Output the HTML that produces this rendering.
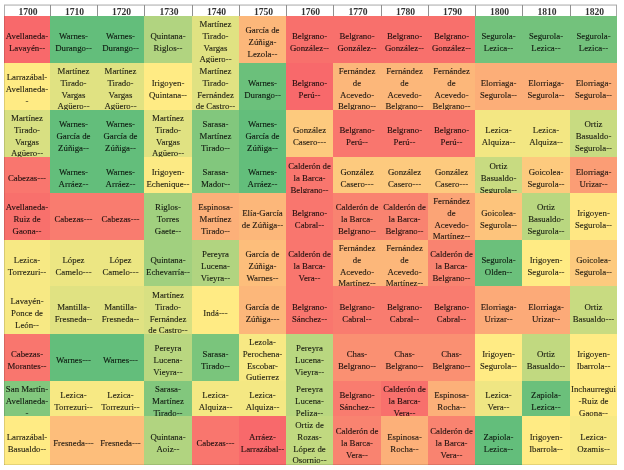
<!DOCTYPE html>
<html><head><meta charset="utf-8"><style>
html,body{margin:0;padding:0;background:#fff;width:624px;height:470px;overflow:hidden}
body{position:relative;font-family:"Liberation Serif",serif;}
.c{position:absolute;overflow:hidden;}
.t{position:absolute;left:0;right:0;text-align:center;font-size:8.8px;line-height:11.8px;white-space:nowrap;-webkit-text-stroke:0.1px currentColor;will-change:transform}
.t span{display:inline-block;transform:scaleX(1.0);transform-origin:50% 50%}
.h{position:absolute;background:#fff;text-align:center;font-weight:bold;font-size:9.6px;line-height:11px;color:#333;padding-left:2px;will-change:transform;box-sizing:border-box}
</style></head><body>

<div style="position:absolute;left:4px;top:4px;width:613px;height:1px;background:#d8d8d8"></div>
<div style="position:absolute;left:4px;top:5px;width:613px;height:1px;background:#cfcfcf"></div>
<div class="h" style="left:4.0px;top:6.0px;width:46.0px;height:10.0px;line-height:12.8px">1700</div>
<div class="h" style="left:50.0px;top:6.0px;width:47.0px;height:10.0px;line-height:12.8px">1710</div>
<div class="h" style="left:97.0px;top:6.0px;width:47.0px;height:10.0px;line-height:12.8px">1720</div>
<div class="h" style="left:144.0px;top:6.0px;width:48.0px;height:10.0px;line-height:12.8px">1730</div>
<div class="h" style="left:192.0px;top:6.0px;width:47.0px;height:10.0px;line-height:12.8px">1740</div>
<div class="h" style="left:239.0px;top:6.0px;width:47.0px;height:10.0px;line-height:12.8px">1750</div>
<div class="h" style="left:286.0px;top:6.0px;width:47.0px;height:10.0px;line-height:12.8px">1760</div>
<div class="h" style="left:333.0px;top:6.0px;width:48.0px;height:10.0px;line-height:12.8px">1770</div>
<div class="h" style="left:381.0px;top:6.0px;width:47.0px;height:10.0px;line-height:12.8px">1780</div>
<div class="h" style="left:428.0px;top:6.0px;width:47.0px;height:10.0px;line-height:12.8px">1790</div>
<div class="h" style="left:475.0px;top:6.0px;width:47.0px;height:10.0px;line-height:12.8px">1800</div>
<div class="h" style="left:522.0px;top:6.0px;width:48.0px;height:10.0px;line-height:12.8px">1810</div>
<div class="h" style="left:570.0px;top:6.0px;width:47.0px;height:10.0px;line-height:12.8px">1820</div>
<div style="position:absolute;left:49.5px;top:4.7px;width:1px;height:11.3px;background:#909090"></div>
<div style="position:absolute;left:96.5px;top:4.7px;width:1px;height:11.3px;background:#909090"></div>
<div style="position:absolute;left:143.5px;top:4.7px;width:1px;height:11.3px;background:#909090"></div>
<div style="position:absolute;left:191.5px;top:4.7px;width:1px;height:11.3px;background:#909090"></div>
<div style="position:absolute;left:238.5px;top:4.7px;width:1px;height:11.3px;background:#909090"></div>
<div style="position:absolute;left:285.5px;top:4.7px;width:1px;height:11.3px;background:#909090"></div>
<div style="position:absolute;left:332.5px;top:4.7px;width:1px;height:11.3px;background:#909090"></div>
<div style="position:absolute;left:380.5px;top:4.7px;width:1px;height:11.3px;background:#909090"></div>
<div style="position:absolute;left:427.5px;top:4.7px;width:1px;height:11.3px;background:#909090"></div>
<div style="position:absolute;left:474.5px;top:4.7px;width:1px;height:11.3px;background:#909090"></div>
<div style="position:absolute;left:521.5px;top:4.7px;width:1px;height:11.3px;background:#909090"></div>
<div style="position:absolute;left:569.5px;top:4.7px;width:1px;height:11.3px;background:#909090"></div>
<div style="position:absolute;left:3.5px;top:4.7px;width:1px;height:460.3px;background:#b0b0b0"></div>
<div style="position:absolute;left:616.0px;top:4.7px;width:1px;height:11.3px;background:#a8a8a8"></div>
<div class="c" style="left:4.0px;top:16.0px;width:46.0px;height:47.0px;background:#f8696b"><div class="t" style="top:15.2px;color:#1e0d0d"><span>Avellaneda-</span><br><span>Lavayén--</span></div></div>
<div class="c" style="left:50.0px;top:16.0px;width:47.0px;height:47.0px;background:#63be7b"><div class="t" style="top:15.2px;color:#0c170f"><span>Warnes-</span><br><span>Durango--</span></div></div>
<div class="c" style="left:97.0px;top:16.0px;width:47.0px;height:47.0px;background:#63be7b"><div class="t" style="top:15.2px;color:#0c170f"><span>Warnes-</span><br><span>Durango--</span></div></div>
<div class="c" style="left:144.0px;top:16.0px;width:48.0px;height:47.0px;background:#b1d480"><div class="t" style="top:15.2px;color:#15190f"><span>Quintana-</span><br><span>Riglos--</span></div></div>
<div class="c" style="left:192.0px;top:16.0px;width:47.0px;height:47.0px;background:#e0e282"><div class="t" style="top:3.4px;color:#1b1b10"><span>Martínez</span><br><span>Tirado-</span><br><span>Vargas</span><br><span>Agüero--</span></div></div>
<div class="c" style="left:239.0px;top:16.0px;width:47.0px;height:47.0px;background:#fcb77a"><div class="t" style="top:9.3px;color:#1e160f"><span>García de</span><br><span>Zúñiga-</span><br><span>Lezola--</span></div></div>
<div class="c" style="left:286.0px;top:16.0px;width:47.0px;height:47.0px;background:#f8706c"><div class="t" style="top:15.2px;color:#1e0d0d"><span>Belgrano-</span><br><span>González--</span></div></div>
<div class="c" style="left:333.0px;top:16.0px;width:48.0px;height:47.0px;background:#f8706c"><div class="t" style="top:15.2px;color:#1e0d0d"><span>Belgrano-</span><br><span>González--</span></div></div>
<div class="c" style="left:381.0px;top:16.0px;width:47.0px;height:47.0px;background:#f8706c"><div class="t" style="top:15.2px;color:#1e0d0d"><span>Belgrano-</span><br><span>González--</span></div></div>
<div class="c" style="left:428.0px;top:16.0px;width:47.0px;height:47.0px;background:#f8706c"><div class="t" style="top:15.2px;color:#1e0d0d"><span>Belgrano-</span><br><span>González--</span></div></div>
<div class="c" style="left:475.0px;top:16.0px;width:47.0px;height:47.0px;background:#73c27c"><div class="t" style="top:15.2px;color:#0e170f"><span>Segurola-</span><br><span>Lezica--</span></div></div>
<div class="c" style="left:522.0px;top:16.0px;width:48.0px;height:47.0px;background:#73c27c"><div class="t" style="top:15.2px;color:#0e170f"><span>Segurola-</span><br><span>Lezica--</span></div></div>
<div class="c" style="left:570.0px;top:16.0px;width:47.0px;height:47.0px;background:#73c27c"><div class="t" style="top:15.2px;color:#0e170f"><span>Segurola-</span><br><span>Lezica--</span></div></div>
<div class="c" style="left:4.0px;top:63.0px;width:46.0px;height:47.0px;background:#ffeb84"><div class="t" style="top:9.3px;color:#1f1c10"><span>Larrazábal-</span><br><span>Avellaneda-</span><br><span>-</span></div></div>
<div class="c" style="left:50.0px;top:63.0px;width:47.0px;height:47.0px;background:#e0e282"><div class="t" style="top:3.4px;color:#1b1b10"><span>Martínez</span><br><span>Tirado-</span><br><span>Vargas</span><br><span>Agüero--</span></div></div>
<div class="c" style="left:97.0px;top:63.0px;width:47.0px;height:47.0px;background:#e0e282"><div class="t" style="top:3.4px;color:#1b1b10"><span>Martínez</span><br><span>Tirado-</span><br><span>Vargas</span><br><span>Agüero--</span></div></div>
<div class="c" style="left:144.0px;top:63.0px;width:48.0px;height:47.0px;background:#ffeb84"><div class="t" style="top:15.2px;color:#1f1c10"><span>Irigoyen-</span><br><span>Quintana--</span></div></div>
<div class="c" style="left:192.0px;top:63.0px;width:47.0px;height:47.0px;background:#e0e282"><div class="t" style="top:3.4px;color:#1b1b10"><span>Martínez</span><br><span>Tirado-</span><br><span>Fernández</span><br><span>de Castro--</span></div></div>
<div class="c" style="left:239.0px;top:63.0px;width:47.0px;height:47.0px;background:#6bc07b"><div class="t" style="top:15.2px;color:#0d170f"><span>Warnes-</span><br><span>Durango--</span></div></div>
<div class="c" style="left:286.0px;top:63.0px;width:47.0px;height:47.0px;background:#f8696b"><div class="t" style="top:15.2px;color:#1e0d0d"><span>Belgrano-</span><br><span>Perú--</span></div></div>
<div class="c" style="left:333.0px;top:63.0px;width:48.0px;height:47.0px;background:#fcb77a"><div class="t" style="top:3.4px;color:#1e160f"><span>Fernández</span><br><span>de</span><br><span>Acevedo-</span><br><span>Belgrano--</span></div></div>
<div class="c" style="left:381.0px;top:63.0px;width:47.0px;height:47.0px;background:#fcb77a"><div class="t" style="top:3.4px;color:#1e160f"><span>Fernández</span><br><span>de</span><br><span>Acevedo-</span><br><span>Belgrano--</span></div></div>
<div class="c" style="left:428.0px;top:63.0px;width:47.0px;height:47.0px;background:#fcb77a"><div class="t" style="top:3.4px;color:#1e160f"><span>Fernández</span><br><span>de</span><br><span>Acevedo-</span><br><span>Belgrano--</span></div></div>
<div class="c" style="left:475.0px;top:63.0px;width:47.0px;height:47.0px;background:#fcae78"><div class="t" style="top:15.2px;color:#1e150e"><span>Elorriaga-</span><br><span>Segurola--</span></div></div>
<div class="c" style="left:522.0px;top:63.0px;width:48.0px;height:47.0px;background:#fcae78"><div class="t" style="top:15.2px;color:#1e150e"><span>Elorriaga-</span><br><span>Segurola--</span></div></div>
<div class="c" style="left:570.0px;top:63.0px;width:47.0px;height:47.0px;background:#fcae78"><div class="t" style="top:15.2px;color:#1e150e"><span>Elorriaga-</span><br><span>Segurola--</span></div></div>
<div class="c" style="left:4.0px;top:110.0px;width:46.0px;height:47.0px;background:#d8e082"><div class="t" style="top:3.4px;color:#1a1b10"><span>Martínez</span><br><span>Tirado-</span><br><span>Vargas</span><br><span>Agüero--</span></div></div>
<div class="c" style="left:50.0px;top:110.0px;width:47.0px;height:47.0px;background:#63be7b"><div class="t" style="top:9.3px;color:#0c170f"><span>Warnes-</span><br><span>García de</span><br><span>Zúñiga--</span></div></div>
<div class="c" style="left:97.0px;top:110.0px;width:47.0px;height:47.0px;background:#63be7b"><div class="t" style="top:9.3px;color:#0c170f"><span>Warnes-</span><br><span>García de</span><br><span>Zúñiga--</span></div></div>
<div class="c" style="left:144.0px;top:110.0px;width:48.0px;height:47.0px;background:#e0e282"><div class="t" style="top:3.4px;color:#1b1b10"><span>Martínez</span><br><span>Tirado-</span><br><span>Vargas</span><br><span>Agüero--</span></div></div>
<div class="c" style="left:192.0px;top:110.0px;width:47.0px;height:47.0px;background:#82c77d"><div class="t" style="top:9.3px;color:#10180f"><span>Sarasa-</span><br><span>Martínez</span><br><span>Tirado--</span></div></div>
<div class="c" style="left:239.0px;top:110.0px;width:47.0px;height:47.0px;background:#63be7b"><div class="t" style="top:9.3px;color:#0c170f"><span>Warnes-</span><br><span>García de</span><br><span>Zúñiga--</span></div></div>
<div class="c" style="left:286.0px;top:110.0px;width:47.0px;height:47.0px;background:#fdca7e"><div class="t" style="top:15.2px;color:#1e180f"><span>González</span><br><span>Casero---</span></div></div>
<div class="c" style="left:333.0px;top:110.0px;width:48.0px;height:47.0px;background:#f9766e"><div class="t" style="top:15.2px;color:#1e0e0d"><span>Belgrano-</span><br><span>Perú--</span></div></div>
<div class="c" style="left:381.0px;top:110.0px;width:47.0px;height:47.0px;background:#f9766e"><div class="t" style="top:15.2px;color:#1e0e0d"><span>Belgrano-</span><br><span>Perú--</span></div></div>
<div class="c" style="left:428.0px;top:110.0px;width:47.0px;height:47.0px;background:#f9766e"><div class="t" style="top:15.2px;color:#1e0e0d"><span>Belgrano-</span><br><span>Perú--</span></div></div>
<div class="c" style="left:475.0px;top:110.0px;width:47.0px;height:47.0px;background:#f3e783"><div class="t" style="top:15.2px;color:#1d1c10"><span>Lezica-</span><br><span>Alquiza--</span></div></div>
<div class="c" style="left:522.0px;top:110.0px;width:48.0px;height:47.0px;background:#f3e783"><div class="t" style="top:15.2px;color:#1d1c10"><span>Lezica-</span><br><span>Alquiza--</span></div></div>
<div class="c" style="left:570.0px;top:110.0px;width:47.0px;height:47.0px;background:#c8db81"><div class="t" style="top:9.3px;color:#181a0f"><span>Ortiz</span><br><span>Basualdo-</span><br><span>Segurola--</span></div></div>
<div class="c" style="left:4.0px;top:157.0px;width:46.0px;height:36.0px;background:#f9766e"><div class="t" style="top:15.6px;color:#1e0e0d"><span>Cabezas---</span></div></div>
<div class="c" style="left:50.0px;top:157.0px;width:47.0px;height:36.0px;background:#63be7b"><div class="t" style="top:9.7px;color:#0c170f"><span>Warnes-</span><br><span>Arráez--</span></div></div>
<div class="c" style="left:97.0px;top:157.0px;width:47.0px;height:36.0px;background:#63be7b"><div class="t" style="top:9.7px;color:#0c170f"><span>Warnes-</span><br><span>Arráez--</span></div></div>
<div class="c" style="left:144.0px;top:157.0px;width:48.0px;height:36.0px;background:#fcea84"><div class="t" style="top:9.7px;color:#1e1c10"><span>Irigoyen-</span><br><span>Echenique--</span></div></div>
<div class="c" style="left:192.0px;top:157.0px;width:47.0px;height:36.0px;background:#82c77d"><div class="t" style="top:9.7px;color:#10180f"><span>Sarasa-</span><br><span>Mador--</span></div></div>
<div class="c" style="left:239.0px;top:157.0px;width:47.0px;height:36.0px;background:#63be7b"><div class="t" style="top:9.7px;color:#0c170f"><span>Warnes-</span><br><span>Arráez--</span></div></div>
<div class="c" style="left:286.0px;top:157.0px;width:47.0px;height:36.0px;background:#f9766e"><div class="t" style="top:3.8px;color:#1e0e0d"><span>Calderón de</span><br><span>la Barca-</span><br><span>Belgrano--</span></div></div>
<div class="c" style="left:333.0px;top:157.0px;width:48.0px;height:36.0px;background:#fdca7e"><div class="t" style="top:9.7px;color:#1e180f"><span>González</span><br><span>Casero---</span></div></div>
<div class="c" style="left:381.0px;top:157.0px;width:47.0px;height:36.0px;background:#fdca7e"><div class="t" style="top:9.7px;color:#1e180f"><span>González</span><br><span>Casero---</span></div></div>
<div class="c" style="left:428.0px;top:157.0px;width:47.0px;height:36.0px;background:#fdca7e"><div class="t" style="top:9.7px;color:#1e180f"><span>González</span><br><span>Casero---</span></div></div>
<div class="c" style="left:475.0px;top:157.0px;width:47.0px;height:36.0px;background:#c8db81"><div class="t" style="top:3.8px;color:#181a0f"><span>Ortiz</span><br><span>Basualdo-</span><br><span>Segurola--</span></div></div>
<div class="c" style="left:522.0px;top:157.0px;width:48.0px;height:36.0px;background:#fdca7e"><div class="t" style="top:9.7px;color:#1e180f"><span>Goicolea-</span><br><span>Segurola--</span></div></div>
<div class="c" style="left:570.0px;top:157.0px;width:47.0px;height:36.0px;background:#fb9d75"><div class="t" style="top:9.7px;color:#1e130e"><span>Elorriaga-</span><br><span>Urizar--</span></div></div>
<div class="c" style="left:4.0px;top:193.0px;width:46.0px;height:47.0px;background:#f8706c"><div class="t" style="top:9.3px;color:#1e0d0d"><span>Avellaneda-</span><br><span>Ruiz de</span><br><span>Gaona--</span></div></div>
<div class="c" style="left:50.0px;top:193.0px;width:47.0px;height:47.0px;background:#f97c6f"><div class="t" style="top:21.1px;color:#1e0f0d"><span>Cabezas---</span></div></div>
<div class="c" style="left:97.0px;top:193.0px;width:47.0px;height:47.0px;background:#f97c6f"><div class="t" style="top:21.1px;color:#1e0f0d"><span>Cabezas---</span></div></div>
<div class="c" style="left:144.0px;top:193.0px;width:48.0px;height:47.0px;background:#a1d07f"><div class="t" style="top:9.3px;color:#13190f"><span>Riglos-</span><br><span>Torres</span><br><span>Gaete--</span></div></div>
<div class="c" style="left:192.0px;top:193.0px;width:47.0px;height:47.0px;background:#fcb079"><div class="t" style="top:9.3px;color:#1e150f"><span>Espinosa-</span><br><span>Martínez</span><br><span>Tirado--</span></div></div>
<div class="c" style="left:239.0px;top:193.0px;width:47.0px;height:47.0px;background:#fcb77a"><div class="t" style="top:15.2px;color:#1e160f"><span>Elía-García</span><br><span>de Zúñiga--</span></div></div>
<div class="c" style="left:286.0px;top:193.0px;width:47.0px;height:47.0px;background:#f9766e"><div class="t" style="top:15.2px;color:#1e0e0d"><span>Belgrano-</span><br><span>Cabral--</span></div></div>
<div class="c" style="left:333.0px;top:193.0px;width:48.0px;height:47.0px;background:#f98370"><div class="t" style="top:9.3px;color:#1e100d"><span>Calderón de</span><br><span>la Barca-</span><br><span>Belgrano--</span></div></div>
<div class="c" style="left:381.0px;top:193.0px;width:47.0px;height:47.0px;background:#f98370"><div class="t" style="top:9.3px;color:#1e100d"><span>Calderón de</span><br><span>la Barca-</span><br><span>Belgrano--</span></div></div>
<div class="c" style="left:428.0px;top:193.0px;width:47.0px;height:47.0px;background:#fba476"><div class="t" style="top:3.4px;color:#1e140e"><span>Fernández</span><br><span>de</span><br><span>Acevedo-</span><br><span>Martínez--</span></div></div>
<div class="c" style="left:475.0px;top:193.0px;width:47.0px;height:47.0px;background:#fdc47c"><div class="t" style="top:15.2px;color:#1e180f"><span>Goicolea-</span><br><span>Segurola--</span></div></div>
<div class="c" style="left:522.0px;top:193.0px;width:48.0px;height:47.0px;background:#b9d780"><div class="t" style="top:9.3px;color:#161a0f"><span>Ortiz</span><br><span>Basualdo-</span><br><span>Segurola--</span></div></div>
<div class="c" style="left:570.0px;top:193.0px;width:47.0px;height:47.0px;background:#ffe783"><div class="t" style="top:15.2px;color:#1f1c10"><span>Irigoyen-</span><br><span>Segurola--</span></div></div>
<div class="c" style="left:4.0px;top:240.0px;width:46.0px;height:46.0px;background:#f7e984"><div class="t" style="top:14.7px;color:#1e1c10"><span>Lezica-</span><br><span>Torrezuri--</span></div></div>
<div class="c" style="left:50.0px;top:240.0px;width:47.0px;height:46.0px;background:#ece683"><div class="t" style="top:14.7px;color:#1c1c10"><span>López</span><br><span>Camelo---</span></div></div>
<div class="c" style="left:97.0px;top:240.0px;width:47.0px;height:46.0px;background:#ece683"><div class="t" style="top:14.7px;color:#1c1c10"><span>López</span><br><span>Camelo---</span></div></div>
<div class="c" style="left:144.0px;top:240.0px;width:48.0px;height:46.0px;background:#a1d07f"><div class="t" style="top:14.7px;color:#13190f"><span>Quintana-</span><br><span>Echevarría--</span></div></div>
<div class="c" style="left:192.0px;top:240.0px;width:47.0px;height:46.0px;background:#b1d480"><div class="t" style="top:8.8px;color:#15190f"><span>Pereyra</span><br><span>Lucena-</span><br><span>Vieyra--</span></div></div>
<div class="c" style="left:239.0px;top:240.0px;width:47.0px;height:46.0px;background:#fdbe7b"><div class="t" style="top:8.8px;color:#1e170f"><span>García de</span><br><span>Zúñiga-</span><br><span>Warnes--</span></div></div>
<div class="c" style="left:286.0px;top:240.0px;width:47.0px;height:46.0px;background:#f9766e"><div class="t" style="top:8.8px;color:#1e0e0d"><span>Calderón de</span><br><span>la Barca-</span><br><span>Vera--</span></div></div>
<div class="c" style="left:333.0px;top:240.0px;width:48.0px;height:46.0px;background:#fcb77a"><div class="t" style="top:2.9px;color:#1e160f"><span>Fernández</span><br><span>de</span><br><span>Acevedo-</span><br><span>Martínez--</span></div></div>
<div class="c" style="left:381.0px;top:240.0px;width:47.0px;height:46.0px;background:#fcb77a"><div class="t" style="top:2.9px;color:#1e160f"><span>Fernández</span><br><span>de</span><br><span>Acevedo-</span><br><span>Martínez--</span></div></div>
<div class="c" style="left:428.0px;top:240.0px;width:47.0px;height:46.0px;background:#f98370"><div class="t" style="top:8.8px;color:#1e100d"><span>Calderón de</span><br><span>la Barca-</span><br><span>Belgrano--</span></div></div>
<div class="c" style="left:475.0px;top:240.0px;width:47.0px;height:46.0px;background:#6bc07b"><div class="t" style="top:14.7px;color:#0d170f"><span>Segurola-</span><br><span>Olden--</span></div></div>
<div class="c" style="left:522.0px;top:240.0px;width:48.0px;height:46.0px;background:#ffeb84"><div class="t" style="top:14.7px;color:#1f1c10"><span>Irigoyen-</span><br><span>Segurola--</span></div></div>
<div class="c" style="left:570.0px;top:240.0px;width:47.0px;height:46.0px;background:#fdca7e"><div class="t" style="top:14.7px;color:#1e180f"><span>Goicolea-</span><br><span>Segurola--</span></div></div>
<div class="c" style="left:4.0px;top:286.0px;width:46.0px;height:48.0px;background:#f7e984"><div class="t" style="top:9.8px;color:#1e1c10"><span>Lavayén-</span><br><span>Ponce de</span><br><span>León--</span></div></div>
<div class="c" style="left:50.0px;top:286.0px;width:47.0px;height:48.0px;background:#e0e282"><div class="t" style="top:15.7px;color:#1b1b10"><span>Mantilla-</span><br><span>Fresneda--</span></div></div>
<div class="c" style="left:97.0px;top:286.0px;width:47.0px;height:48.0px;background:#e0e282"><div class="t" style="top:15.7px;color:#1b1b10"><span>Mantilla-</span><br><span>Fresneda--</span></div></div>
<div class="c" style="left:144.0px;top:286.0px;width:48.0px;height:48.0px;background:#d8e082"><div class="t" style="top:3.9px;color:#1a1b10"><span>Martínez</span><br><span>Tirado-</span><br><span>Fernández</span><br><span>de Castro--</span></div></div>
<div class="c" style="left:192.0px;top:286.0px;width:47.0px;height:48.0px;background:#ffeb84"><div class="t" style="top:21.6px;color:#1f1c10"><span>Indá---</span></div></div>
<div class="c" style="left:239.0px;top:286.0px;width:47.0px;height:48.0px;background:#fcb77a"><div class="t" style="top:15.7px;color:#1e160f"><span>García de</span><br><span>Zúñiga---</span></div></div>
<div class="c" style="left:286.0px;top:286.0px;width:47.0px;height:48.0px;background:#f9766e"><div class="t" style="top:15.7px;color:#1e0e0d"><span>Belgrano-</span><br><span>Sánchez--</span></div></div>
<div class="c" style="left:333.0px;top:286.0px;width:48.0px;height:48.0px;background:#f97c6f"><div class="t" style="top:15.7px;color:#1e0f0d"><span>Belgrano-</span><br><span>Cabral--</span></div></div>
<div class="c" style="left:381.0px;top:286.0px;width:47.0px;height:48.0px;background:#f97c6f"><div class="t" style="top:15.7px;color:#1e0f0d"><span>Belgrano-</span><br><span>Cabral--</span></div></div>
<div class="c" style="left:428.0px;top:286.0px;width:47.0px;height:48.0px;background:#f97c6f"><div class="t" style="top:15.7px;color:#1e0f0d"><span>Belgrano-</span><br><span>Cabral--</span></div></div>
<div class="c" style="left:475.0px;top:286.0px;width:47.0px;height:48.0px;background:#fcaa78"><div class="t" style="top:15.7px;color:#1e140e"><span>Elorriaga-</span><br><span>Urizar--</span></div></div>
<div class="c" style="left:522.0px;top:286.0px;width:48.0px;height:48.0px;background:#fcaa78"><div class="t" style="top:15.7px;color:#1e140e"><span>Elorriaga-</span><br><span>Urizar--</span></div></div>
<div class="c" style="left:570.0px;top:286.0px;width:47.0px;height:48.0px;background:#c8db81"><div class="t" style="top:15.7px;color:#181a0f"><span>Ortiz</span><br><span>Basualdo---</span></div></div>
<div class="c" style="left:4.0px;top:334.0px;width:46.0px;height:47.0px;background:#f9766e"><div class="t" style="top:15.2px;color:#1e0e0d"><span>Cabezas-</span><br><span>Morantes--</span></div></div>
<div class="c" style="left:50.0px;top:334.0px;width:47.0px;height:47.0px;background:#63be7b"><div class="t" style="top:21.1px;color:#0c170f"><span>Warnes---</span></div></div>
<div class="c" style="left:97.0px;top:334.0px;width:47.0px;height:47.0px;background:#63be7b"><div class="t" style="top:21.1px;color:#0c170f"><span>Warnes---</span></div></div>
<div class="c" style="left:144.0px;top:334.0px;width:48.0px;height:47.0px;background:#b9d780"><div class="t" style="top:9.3px;color:#161a0f"><span>Pereyra</span><br><span>Lucena-</span><br><span>Vieyra--</span></div></div>
<div class="c" style="left:192.0px;top:334.0px;width:47.0px;height:47.0px;background:#7ac57c"><div class="t" style="top:15.2px;color:#0f180f"><span>Sarasa-</span><br><span>Tirado--</span></div></div>
<div class="c" style="left:239.0px;top:334.0px;width:47.0px;height:47.0px;background:#f7e984"><div class="t" style="top:3.4px;color:#1e1c10"><span>Lezola-</span><br><span>Perochena-</span><br><span>Escobar-</span><br><span>Gutierrez</span></div></div>
<div class="c" style="left:286.0px;top:334.0px;width:47.0px;height:47.0px;background:#b9d780"><div class="t" style="top:9.3px;color:#161a0f"><span>Pereyra</span><br><span>Lucena-</span><br><span>Vieyra--</span></div></div>
<div class="c" style="left:333.0px;top:334.0px;width:48.0px;height:47.0px;background:#fa9072"><div class="t" style="top:15.2px;color:#1e110e"><span>Chas-</span><br><span>Belgrano--</span></div></div>
<div class="c" style="left:381.0px;top:334.0px;width:47.0px;height:47.0px;background:#fa9072"><div class="t" style="top:15.2px;color:#1e110e"><span>Chas-</span><br><span>Belgrano--</span></div></div>
<div class="c" style="left:428.0px;top:334.0px;width:47.0px;height:47.0px;background:#fa9072"><div class="t" style="top:15.2px;color:#1e110e"><span>Chas-</span><br><span>Belgrano--</span></div></div>
<div class="c" style="left:475.0px;top:334.0px;width:47.0px;height:47.0px;background:#ffeb84"><div class="t" style="top:15.2px;color:#1f1c10"><span>Irigoyen-</span><br><span>Segurola--</span></div></div>
<div class="c" style="left:522.0px;top:334.0px;width:48.0px;height:47.0px;background:#c1d980"><div class="t" style="top:15.2px;color:#171a0f"><span>Ortiz</span><br><span>Basualdo--</span></div></div>
<div class="c" style="left:570.0px;top:334.0px;width:47.0px;height:47.0px;background:#ffeb84"><div class="t" style="top:15.2px;color:#1f1c10"><span>Irigoyen-</span><br><span>Ibarrola--</span></div></div>
<div class="c" style="left:4.0px;top:381.0px;width:46.0px;height:35.0px;background:#82c77d"><div class="t" style="top:3.3px;color:#10180f"><span>San Martín-</span><br><span>Avellaneda-</span><br><span>-</span></div></div>
<div class="c" style="left:50.0px;top:381.0px;width:47.0px;height:35.0px;background:#f7e984"><div class="t" style="top:9.2px;color:#1e1c10"><span>Lezica-</span><br><span>Torrezuri--</span></div></div>
<div class="c" style="left:97.0px;top:381.0px;width:47.0px;height:35.0px;background:#f7e984"><div class="t" style="top:9.2px;color:#1e1c10"><span>Lezica-</span><br><span>Torrezuri--</span></div></div>
<div class="c" style="left:144.0px;top:381.0px;width:48.0px;height:35.0px;background:#82c77d"><div class="t" style="top:3.3px;color:#10180f"><span>Sarasa-</span><br><span>Martínez</span><br><span>Tirado--</span></div></div>
<div class="c" style="left:192.0px;top:381.0px;width:47.0px;height:35.0px;background:#f4e883"><div class="t" style="top:9.2px;color:#1d1c10"><span>Lezica-</span><br><span>Alquiza--</span></div></div>
<div class="c" style="left:239.0px;top:381.0px;width:47.0px;height:35.0px;background:#f4e883"><div class="t" style="top:9.2px;color:#1d1c10"><span>Lezica-</span><br><span>Alquiza--</span></div></div>
<div class="c" style="left:286.0px;top:381.0px;width:47.0px;height:35.0px;background:#b9d780"><div class="t" style="top:3.3px;color:#161a0f"><span>Pereyra</span><br><span>Lucena-</span><br><span>Peliza--</span></div></div>
<div class="c" style="left:333.0px;top:381.0px;width:48.0px;height:35.0px;background:#f97c6f"><div class="t" style="top:9.2px;color:#1e0f0d"><span>Belgrano-</span><br><span>Sánchez--</span></div></div>
<div class="c" style="left:381.0px;top:381.0px;width:47.0px;height:35.0px;background:#f8706c"><div class="t" style="top:3.3px;color:#1e0d0d"><span>Calderón de</span><br><span>la Barca-</span><br><span>Vera--</span></div></div>
<div class="c" style="left:428.0px;top:381.0px;width:47.0px;height:35.0px;background:#fcb079"><div class="t" style="top:9.2px;color:#1e150f"><span>Espinosa-</span><br><span>Rocha--</span></div></div>
<div class="c" style="left:475.0px;top:381.0px;width:47.0px;height:35.0px;background:#efe683"><div class="t" style="top:9.2px;color:#1d1c10"><span>Lezica-</span><br><span>Vera--</span></div></div>
<div class="c" style="left:522.0px;top:381.0px;width:48.0px;height:35.0px;background:#6bc07b"><div class="t" style="top:9.2px;color:#0d170f"><span>Zapiola-</span><br><span>Lezica--</span></div></div>
<div class="c" style="left:570.0px;top:381.0px;width:47.0px;height:35.0px;background:#ffeb84"><div class="t" style="top:3.3px;color:#1f1c10"><span>Inchaurregui</span><br><span>-Ruiz de</span><br><span>Gaona--</span></div></div>
<div class="c" style="left:4.0px;top:416.0px;width:46.0px;height:49.0px;background:#ffeb84"><div class="t" style="top:16.2px;color:#1f1c10"><span>Larrazábal-</span><br><span>Basualdo--</span></div></div>
<div class="c" style="left:50.0px;top:416.0px;width:47.0px;height:49.0px;background:#fdbe7b"><div class="t" style="top:22.1px;color:#1e170f"><span>Fresneda---</span></div></div>
<div class="c" style="left:97.0px;top:416.0px;width:47.0px;height:49.0px;background:#fdbe7b"><div class="t" style="top:22.1px;color:#1e170f"><span>Fresneda---</span></div></div>
<div class="c" style="left:144.0px;top:416.0px;width:48.0px;height:49.0px;background:#b1d480"><div class="t" style="top:16.2px;color:#15190f"><span>Quintana-</span><br><span>Aoiz--</span></div></div>
<div class="c" style="left:192.0px;top:416.0px;width:47.0px;height:49.0px;background:#f9766e"><div class="t" style="top:22.1px;color:#1e0e0d"><span>Cabezas---</span></div></div>
<div class="c" style="left:239.0px;top:416.0px;width:47.0px;height:49.0px;background:#f8696b"><div class="t" style="top:16.2px;color:#1e0d0d"><span>Arráez-</span><br><span>Larrazábal--</span></div></div>
<div class="c" style="left:286.0px;top:416.0px;width:47.0px;height:49.0px;background:#c1d980"><div class="t" style="top:4.4px;color:#171a0f"><span>Ortiz de</span><br><span>Rozas-</span><br><span>López de</span><br><span>Osornio--</span></div></div>
<div class="c" style="left:333.0px;top:416.0px;width:48.0px;height:49.0px;background:#f98370"><div class="t" style="top:10.3px;color:#1e100d"><span>Calderón de</span><br><span>la Barca-</span><br><span>Vera--</span></div></div>
<div class="c" style="left:381.0px;top:416.0px;width:47.0px;height:49.0px;background:#fcb079"><div class="t" style="top:16.2px;color:#1e150f"><span>Espinosa-</span><br><span>Rocha--</span></div></div>
<div class="c" style="left:428.0px;top:416.0px;width:47.0px;height:49.0px;background:#f98370"><div class="t" style="top:10.3px;color:#1e100d"><span>Calderón de</span><br><span>la Barca-</span><br><span>Vera--</span></div></div>
<div class="c" style="left:475.0px;top:416.0px;width:47.0px;height:49.0px;background:#63be7b"><div class="t" style="top:16.2px;color:#0c170f"><span>Zapiola-</span><br><span>Lezica--</span></div></div>
<div class="c" style="left:522.0px;top:416.0px;width:48.0px;height:49.0px;background:#ffeb84"><div class="t" style="top:16.2px;color:#1f1c10"><span>Irigoyen-</span><br><span>Ibarrola--</span></div></div>
<div class="c" style="left:570.0px;top:416.0px;width:47.0px;height:49.0px;background:#f7e984"><div class="t" style="top:16.2px;color:#1e1c10"><span>Lezica-</span><br><span>Ozamis--</span></div></div>
<div style="position:absolute;left:4px;top:16px;width:1px;height:449px;background:rgba(0,0,0,0.13)"></div>
<div style="position:absolute;left:4px;top:464px;width:613px;height:1px;background:rgba(0,0,0,0.10)"></div>
</body></html>
